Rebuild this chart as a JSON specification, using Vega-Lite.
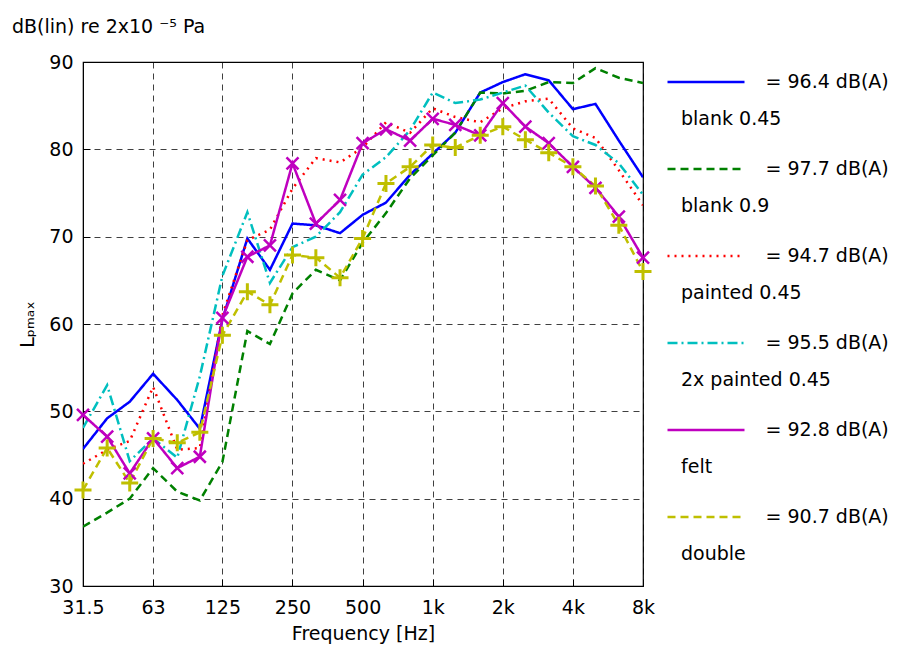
{
  "$schema": "https://vega.github.io/schema/vega-lite/v6.json",
  "width": 560,
  "height": 524,
  "autosize": {"type": "none"},
  "padding": {"left": 83, "top": 62, "right": 267, "bottom": 65},
  "background": "white",
  "config": {
    "font": "DejaVu Sans",
    "view": {"stroke": "#000", "strokeWidth": 1.2},
    "axis": {
      "labelFontSize": 19, "titleFontSize": 19, "titleFontWeight": "normal",
      "labelColor": "#000", "titleColor": "#000", "domainColor": "#000",
      "grid": true, "gridColor": "#000", "gridDash": [6, 5], "gridOpacity": 0.75, "gridWidth": 1,
      "tickColor": "#000", "tickSize": -7, "labelFont": "DejaVu Sans", "titleFont": "DejaVu Sans"
    }
  },
  "title": {"text": "dB(lin) re 2x10 ⁻⁵  Pa", "anchor": "start", "frame": "group", "fontSize": 19, "fontWeight": "normal", "font": "DejaVu Sans", "color": "#000", "dx": -71, "offset": 5},
  "data": {"values": [
    {"series":"blank 0.45","freq":31.5,"level":45.7},{"series":"blank 0.45","freq":40,"level":49.2},{"series":"blank 0.45","freq":50,"level":51.1},{"series":"blank 0.45","freq":63,"level":54.3},{"series":"blank 0.45","freq":80,"level":51.3},{"series":"blank 0.45","freq":100,"level":48.0},{"series":"blank 0.45","freq":125,"level":60.5},{"series":"blank 0.45","freq":160,"level":69.8},{"series":"blank 0.45","freq":200,"level":66.2},{"series":"blank 0.45","freq":250,"level":71.5},{"series":"blank 0.45","freq":315,"level":71.3},{"series":"blank 0.45","freq":400,"level":70.4},{"series":"blank 0.45","freq":500,"level":72.5},{"series":"blank 0.45","freq":630,"level":73.9},{"series":"blank 0.45","freq":800,"level":77.1},{"series":"blank 0.45","freq":1000,"level":79.5},{"series":"blank 0.45","freq":1250,"level":81.9},{"series":"blank 0.45","freq":1600,"level":86.5},{"series":"blank 0.45","freq":2000,"level":87.7},{"series":"blank 0.45","freq":2500,"level":88.6},{"series":"blank 0.45","freq":3150,"level":87.9},{"series":"blank 0.45","freq":4000,"level":84.6},{"series":"blank 0.45","freq":5000,"level":85.2},{"series":"blank 0.45","freq":6300,"level":81.0},{"series":"blank 0.45","freq":8000,"level":76.8},
    {"series":"blank 0.9","freq":31.5,"level":36.8},{"series":"blank 0.9","freq":40,"level":38.4},{"series":"blank 0.9","freq":50,"level":40.0},{"series":"blank 0.9","freq":63,"level":43.5},{"series":"blank 0.9","freq":80,"level":40.8},{"series":"blank 0.9","freq":100,"level":39.8},{"series":"blank 0.9","freq":125,"level":44.2},{"series":"blank 0.9","freq":160,"level":59.2},{"series":"blank 0.9","freq":200,"level":57.7},{"series":"blank 0.9","freq":250,"level":63.5},{"series":"blank 0.9","freq":315,"level":66.2},{"series":"blank 0.9","freq":400,"level":65.0},{"series":"blank 0.9","freq":500,"level":69.3},{"series":"blank 0.9","freq":630,"level":72.7},{"series":"blank 0.9","freq":800,"level":76.7},{"series":"blank 0.9","freq":1000,"level":79.3},{"series":"blank 0.9","freq":1250,"level":81.9},{"series":"blank 0.9","freq":1600,"level":86.5},{"series":"blank 0.9","freq":2000,"level":86.4},{"series":"blank 0.9","freq":2500,"level":86.7},{"series":"blank 0.9","freq":3150,"level":87.7},{"series":"blank 0.9","freq":4000,"level":87.6},{"series":"blank 0.9","freq":5000,"level":89.3},{"series":"blank 0.9","freq":6300,"level":88.2},{"series":"blank 0.9","freq":8000,"level":87.6},
    {"series":"painted 0.45","freq":31.5,"level":44.0},{"series":"painted 0.45","freq":40,"level":45.6},{"series":"painted 0.45","freq":50,"level":46.6},{"series":"painted 0.45","freq":63,"level":52.8},{"series":"painted 0.45","freq":80,"level":45.6},{"series":"painted 0.45","freq":100,"level":45.8},{"series":"painted 0.45","freq":125,"level":61.0},{"series":"painted 0.45","freq":160,"level":69.6},{"series":"painted 0.45","freq":200,"level":70.8},{"series":"painted 0.45","freq":250,"level":75.5},{"series":"painted 0.45","freq":315,"level":79.0},{"series":"painted 0.45","freq":400,"level":78.5},{"series":"painted 0.45","freq":500,"level":80.2},{"series":"painted 0.45","freq":630,"level":83.1},{"series":"painted 0.45","freq":800,"level":81.9},{"series":"painted 0.45","freq":1000,"level":84.7},{"series":"painted 0.45","freq":1250,"level":83.7},{"series":"painted 0.45","freq":1600,"level":83.1},{"series":"painted 0.45","freq":2000,"level":84.7},{"series":"painted 0.45","freq":2500,"level":85.5},{"series":"painted 0.45","freq":3150,"level":85.8},{"series":"painted 0.45","freq":4000,"level":82.4},{"series":"painted 0.45","freq":5000,"level":81.3},{"series":"painted 0.45","freq":6300,"level":77.6},{"series":"painted 0.45","freq":8000,"level":73.6},
    {"series":"2x painted 0.45","freq":31.5,"level":48.1},{"series":"2x painted 0.45","freq":40,"level":53.0},{"series":"2x painted 0.45","freq":50,"level":44.3},{"series":"2x painted 0.45","freq":63,"level":46.9},{"series":"2x painted 0.45","freq":80,"level":44.7},{"series":"2x painted 0.45","freq":100,"level":54.0},{"series":"2x painted 0.45","freq":125,"level":65.5},{"series":"2x painted 0.45","freq":160,"level":72.8},{"series":"2x painted 0.45","freq":200,"level":64.7},{"series":"2x painted 0.45","freq":250,"level":68.8},{"series":"2x painted 0.45","freq":315,"level":70.0},{"series":"2x painted 0.45","freq":400,"level":72.8},{"series":"2x painted 0.45","freq":500,"level":77.1},{"series":"2x painted 0.45","freq":630,"level":79.1},{"series":"2x painted 0.45","freq":800,"level":82.2},{"series":"2x painted 0.45","freq":1000,"level":86.5},{"series":"2x painted 0.45","freq":1250,"level":85.3},{"series":"2x painted 0.45","freq":1600,"level":85.7},{"series":"2x painted 0.45","freq":2000,"level":86.5},{"series":"2x painted 0.45","freq":2500,"level":87.3},{"series":"2x painted 0.45","freq":3150,"level":84.2},{"series":"2x painted 0.45","freq":4000,"level":81.5},{"series":"2x painted 0.45","freq":5000,"level":80.5},{"series":"2x painted 0.45","freq":6300,"level":78.4},{"series":"2x painted 0.45","freq":8000,"level":74.8},
    {"series":"felt","freq":31.5,"level":49.6},{"series":"felt","freq":40,"level":47.1},{"series":"felt","freq":50,"level":42.9},{"series":"felt","freq":63,"level":46.9},{"series":"felt","freq":80,"level":43.5},{"series":"felt","freq":100,"level":44.8},{"series":"felt","freq":125,"level":60.7},{"series":"felt","freq":160,"level":67.7},{"series":"felt","freq":200,"level":69.0},{"series":"felt","freq":250,"level":78.4},{"series":"felt","freq":315,"level":71.5},{"series":"felt","freq":400,"level":74.2},{"series":"felt","freq":500,"level":80.7},{"series":"felt","freq":630,"level":82.3},{"series":"felt","freq":800,"level":81.0},{"series":"felt","freq":1000,"level":83.5},{"series":"felt","freq":1250,"level":82.8},{"series":"felt","freq":1600,"level":81.6},{"series":"felt","freq":2000,"level":85.3},{"series":"felt","freq":2500,"level":82.6},{"series":"felt","freq":3150,"level":80.7},{"series":"felt","freq":4000,"level":78.0},{"series":"felt","freq":5000,"level":75.6},{"series":"felt","freq":6300,"level":72.3},{"series":"felt","freq":8000,"level":67.6},
    {"series":"double","freq":31.5,"level":41.0},{"series":"double","freq":40,"level":45.8},{"series":"double","freq":50,"level":41.8},{"series":"double","freq":63,"level":46.9},{"series":"double","freq":80,"level":46.4},{"series":"double","freq":100,"level":47.6},{"series":"double","freq":125,"level":58.7},{"series":"double","freq":160,"level":63.7},{"series":"double","freq":200,"level":62.2},{"series":"double","freq":250,"level":67.9},{"series":"double","freq":315,"level":67.6},{"series":"double","freq":400,"level":65.3},{"series":"double","freq":500,"level":69.8},{"series":"double","freq":630,"level":76.1},{"series":"double","freq":800,"level":78.0},{"series":"double","freq":1000,"level":80.5},{"series":"double","freq":1250,"level":80.2},{"series":"double","freq":1600,"level":81.6},{"series":"double","freq":2000,"level":82.6},{"series":"double","freq":2500,"level":81.1},{"series":"double","freq":3150,"level":79.6},{"series":"double","freq":4000,"level":78.0},{"series":"double","freq":5000,"level":75.8},{"series":"double","freq":6300,"level":71.3},{"series":"double","freq":8000,"level":66.0}
  ]},
  "encoding": {
    "x": {"field": "freq", "type": "quantitative",
      "scale": {"type": "log", "domain": [31.5, 8000], "nice": false},
      "axis": {"values": [31.5, 63, 125, 250, 500, 1000, 2000, 4000, 8000],
        "labelExpr": "datum.value >= 1000 ? (datum.value / 1000) + 'k' : '' + datum.value",
        "title": "Frequency [Hz]", "labelPadding": 19, "titlePadding": 7, "labelFlush": false}},
    "y": {"field": "level", "type": "quantitative",
      "scale": {"domain": [30, 90], "nice": false, "zero": false},
      "axis": {"values": [30, 40, 50, 60, 70, 80, 90], "title": "Lₚₘₐₓ", "labelPadding": 17, "titlePadding": 11, "labelFlush": false}}
  },
  "layer": [
    {"mark": {"type": "line", "strokeWidth": 2.5, "clip": true},
     "encoding": {
       "color": {"field": "series", "type": "nominal",
         "scale": {"domain": ["blank 0.45", "blank 0.9", "painted 0.45", "2x painted 0.45", "felt", "double"],
                   "range": ["#0000FF", "#008000", "#FF0000", "#00BFBF", "#BF00BF", "#BFBF00"]},
         "legend": {"orient": "none", "legendX": 583, "legendY": -20, "title": null, "padding": 0,
           "symbolType": "stroke", "symbolSize": 5929, "symbolStrokeWidth": 2.5,
           "labelFontSize": 19, "labelFont": "DejaVu Sans", "labelColor": "#000", "labelLimit": 400, "labelOffset": -65,
           "rowPadding": 0,
           "labelExpr": "['\u200b\u00a0\u00a0\u00a0\u00a0\u00a0\u00a0\u00a0\u00a0\u00a0\u00a0\u00a0\u00a0\u00a0\u00a0= ' + (datum.label == 'blank 0.45' ? '96.4' : datum.label == 'blank 0.9' ? '97.7' : datum.label == 'painted 0.45' ? '94.7' : datum.label == '2x painted 0.45' ? '95.5' : datum.label == 'felt' ? '92.8' : '90.7') + ' dB(A)', datum.label]",
           "encode": {"labels": {"update": {"lineHeight": {"value": 37}}}}}},
       "strokeDash": {"field": "series", "type": "nominal",
         "scale": {"domain": ["blank 0.45", "blank 0.9", "painted 0.45", "2x painted 0.45", "felt", "double"],
                   "range": [[1, 0], [8, 5], [2, 5], [10, 4, 2, 4], [1, 0], [8, 5]]},
         "legend": {"orient": "none", "legendX": 583, "legendY": -20, "title": null, "padding": 0,
           "symbolType": "stroke", "symbolSize": 5929, "symbolStrokeWidth": 2.5,
           "labelFontSize": 19, "labelFont": "DejaVu Sans", "labelColor": "#000", "labelLimit": 400, "labelOffset": -65,
           "rowPadding": 0,
           "labelExpr": "['\u200b\u00a0\u00a0\u00a0\u00a0\u00a0\u00a0\u00a0\u00a0\u00a0\u00a0\u00a0\u00a0\u00a0\u00a0= ' + (datum.label == 'blank 0.45' ? '96.4' : datum.label == 'blank 0.9' ? '97.7' : datum.label == 'painted 0.45' ? '94.7' : datum.label == '2x painted 0.45' ? '95.5' : datum.label == 'felt' ? '92.8' : '90.7') + ' dB(A)', datum.label]",
           "encode": {"labels": {"update": {"lineHeight": {"value": 37}}}}}}
     }},
    {"transform": [{"filter": "datum.series == 'felt'"}],
     "mark": {"type": "point", "shape": "M-1,-1L1,1M-1,1L1,-1", "size": 144, "filled": false, "color": "#BF00BF", "strokeWidth": 2.5, "opacity": 1}},
    {"transform": [{"filter": "datum.series == 'double'"}],
     "mark": {"type": "point", "shape": "M-1,0L1,0M0,-1L0,1", "size": 289, "filled": false, "color": "#BFBF00", "strokeWidth": 3, "opacity": 1}}
  ]
}
